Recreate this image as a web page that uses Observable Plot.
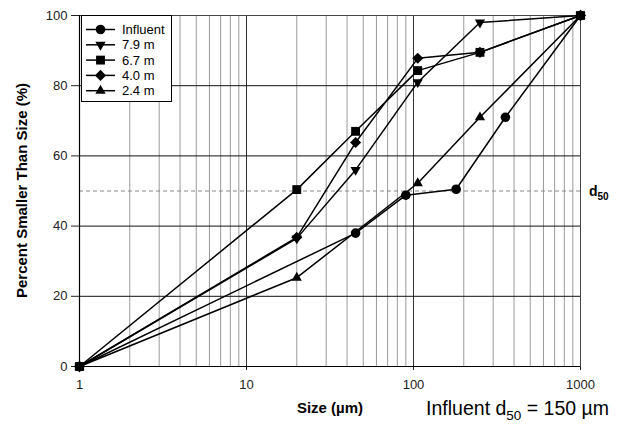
<!DOCTYPE html>
<html>
<head>
<meta charset="utf-8">
<script src="https://cdn.jsdelivr.net/npm/d3@7"></script>
<script src="https://cdn.jsdelivr.net/npm/@observablehq/plot@0.6"></script>
<style>
  html, body { margin: 0; padding: 0; background: #fff; }
  #chart svg { display: block; font-family: "Liberation Sans", Arial, sans-serif; }
</style>
</head>
<body>
<div id="chart"></div>
<script>
// ---- data ----
const seriesNames = ["Influent", "7.9 m", "6.7 m", "4.0 m", "2.4 m"];

const influentSize = [1, 45, 90, 180, 355, 1000];
const influentPct  = [0, 38, 48.8, 50.5, 71, 100];

const d79Size = [1, 20, 45, 106, 250, 1000];
const d79Pct  = [0, 36.5, 56, 81, 98, 100];

const d67Size = [1, 20, 45, 106, 250, 1000];
const d67Pct  = [0, 50.4, 67, 84.3, 89.5, 100];

const d40Size = [1, 20, 45, 106, 250, 1000];
const d40Pct  = [0, 36.8, 63.8, 87.8, 89.5, 100];

const d24Size = [1, 20, 106, 250, 1000];
const d24Pct  = [0, 25.3, 52.2, 71, 100];

const xTicks = [1, 10, 100, 1000];
const yTicks = [0, 20, 40, 60, 80, 100];
const yGrid = [20, 40, 60, 80];
const d50Line = [50];

// ---- build table ----
function rows(name, xs, ys) { return xs.map((x, i) => ({series: name, size: x, pct: ys[i]})); }
const sets = [
  rows("Influent", influentSize, influentPct),
  rows("7.9 m", d79Size, d79Pct),
  rows("6.7 m", d67Size, d67Pct),
  rows("4.0 m", d40Size, d40Pct),
  rows("2.4 m", d24Size, d24Pct)
];
const all = sets.flat();

// minor log grid (2..9 in each decade)
const minorTicks = [];
for (const dec of [1, 10, 100]) for (let k = 2; k <= 9; k++) minorTicks.push(dec * k);

const symbolSpec = {
  "Influent": {symbol: "circle", r: 4.8, rotate: 0},
  "7.9 m": {symbol: "triangle", r: 3.8, rotate: 180},
  "6.7 m": {symbol: "square", r: 5, rotate: 0},
  "4.0 m": {symbol: "diamond2", r: 5, rotate: 0},
  "2.4 m": {symbol: "triangle", r: 3.8, rotate: 0}
};

const dotMarks = sets.map((s, i) => {
  const sp = symbolSpec[seriesNames[i]];
  return Plot.dot(s, {x: "size", y: "pct", symbol: () => sp.symbol, r: sp.r, rotate: sp.rotate, fill: "#000", stroke: "none"});
});

const plot = Plot.plot({
  width: 617,
  height: 424,
  marginLeft: 79,
  marginRight: 37,
  marginTop: 15,
  marginBottom: 58,
  style: {fontFamily: "'Liberation Sans', Arial, sans-serif", fontSize: "13px", color: "#222", background: "#fff"},
  x: {type: "log", domain: [1, 1000]},
  y: {domain: [0, 100]},
  marks: [
    Plot.ruleX(minorTicks, {stroke: "#9a9a9a", strokeWidth: 1}),
    Plot.ruleX([10, 100], {stroke: "#333", strokeWidth: 1}),
    Plot.ruleY(yGrid, {stroke: "#111", strokeWidth: 1}),
    Plot.ruleY(d50Line, {stroke: "#888", strokeWidth: 1, strokeDasharray: "4,3"}),
    Plot.ruleY([100], {stroke: "#444", strokeWidth: 1}),
    Plot.ruleX([1000], {stroke: "#444", strokeWidth: 1}),
    Plot.axisX(xTicks, {tickFormat: d => String(d), tickSize: 4, tickPadding: 9, label: null, fontSize: 13}),
    Plot.axisY(yTicks, {tickSize: 8, tickPadding: 4, label: null, fontSize: 13}),
    Plot.ruleX([1], {stroke: "#000", strokeWidth: 1.2}),
    Plot.ruleY([0], {stroke: "#000", strokeWidth: 1.2}),
    Plot.line(all, {x: "size", y: "pct", z: "series", stroke: "#000", strokeWidth: 1.5}),
    ...dotMarks,
    Plot.text(["Size (\u00b5m)"], {frameAnchor: "bottom", dy: 46, fontWeight: "bold", fontSize: 15, fill: "#000"})
  ]
});

document.getElementById("chart").appendChild(plot);

// ---- annotations & legend ----
const svg = d3.select(plot);
const xs = plot.scale("x"), ys = plot.scale("y");

// y-axis title
const yMid = (ys.apply(0) + ys.apply(100)) / 2;
svg.append("text").attr("transform", `translate(27,${yMid}) rotate(-90)`)
  .attr("text-anchor", "middle").attr("font-size", 15).attr("font-weight", "bold")
  .attr("fill", "#000").text("Percent Smaller Than Size (%)");

// d50 label
const d50y = ys.apply(50);
const d50 = svg.append("text").attr("x", xs.apply(1000) + 9).attr("y", d50y + 5)
  .attr("text-anchor", "start")
  .attr("font-size", 14).attr("font-weight", "bold").attr("fill", "#000");
d50.append("tspan").text("d");
d50.append("tspan").attr("font-size", 10).attr("dy", 4).text("50");

// Influent d50 note
const note = svg.append("text").attr("x", 609).attr("y", 415).attr("text-anchor", "end")
  .attr("font-size", 19.5).attr("fill", "#000");
note.append("tspan").text("Influent d");
note.append("tspan").attr("font-size", 13.5).attr("dy", 5).text("50");
note.append("tspan").attr("dy", -5).text(" = 150 \u00b5m");

// legend
const lg = svg.append("g");
lg.append("rect").attr("x", 81.5).attr("y", 15.5).attr("width", 90).attr("height", 86)
  .attr("fill", "#fff").attr("stroke", "#000").attr("stroke-width", 1);
const symMap = {circle: d3.symbolCircle, triangle: d3.symbolTriangle, square: d3.symbolSquare, diamond2: d3.symbolDiamond2};
seriesNames.forEach((name, i) => {
  const cy = 29.5 + i * 15.3;
  lg.append("line").attr("x1", 86).attr("x2", 115).attr("y1", cy).attr("y2", cy)
    .attr("stroke", "#000").attr("stroke-width", 1.5);
  const sp = symbolSpec[name];
  lg.append("path").attr("d", d3.symbol(symMap[sp.symbol], Math.PI * sp.r * sp.r)())
    .attr("transform", `translate(100.5,${cy}) rotate(${sp.rotate})`).attr("fill", "#000");
  lg.append("text").attr("x", 122).attr("y", cy + 4.5).attr("text-anchor", "start")
    .attr("font-size", 13).attr("fill", "#000").text(name);
});
</script>
</body>
</html>
